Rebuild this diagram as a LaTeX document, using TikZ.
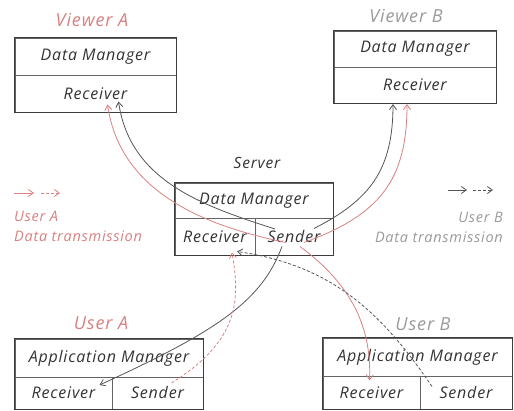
\documentclass[tikz,border=0pt]{standalone}
\usepackage{fontspec}
\setmainfont{Open Sans}[LetterSpace=5]
\usetikzlibrary{arrows.meta,calc}
\definecolor{redc}{HTML}{D98080}
\definecolor{linec}{HTML}{555555}
\definecolor{grayt}{HTML}{9A9A9A}
\definecolor{boxc}{HTML}{3C3C3C}
\definecolor{textc}{HTML}{333333}
\begin{document}
\begin{tikzpicture}[x=1pt,y=-1pt,
  cell/.style={draw=boxc!80, line width=0.8pt, inner sep=0pt, text=textc,
               font=\fontsize{16}{18}\selectfont\itshape},
  outer/.style={draw=boxc, line width=1.4pt},
  title/.style={inner sep=0pt, font=\fontsize{18}{20}\selectfont\itshape},
  legend/.style={inner sep=0pt, font=\fontsize{14.5}{20}\selectfont\itshape},
  conn/.style={line width=0.8pt, -{Straight Barb[length=5pt,width=7pt]}},
  grayconn/.style={conn, draw=linec},
  redconn/.style={conn, draw=redc},
  dashedline/.style={dash pattern=on 3pt off 2pt}
]
\useasboundingbox (0,0) rectangle (514,411);

% Viewer A
\node[cell, minimum width=161, minimum height=37] (vadm) at (95.5,56.5) {Data Manager};
\node[cell, minimum width=161, minimum height=37] (varx) at (95.5,93.5) {Receiver};
\draw[outer] (vadm.north west) rectangle (varx.south east);
\node[title, text=redc] (vat) at (92,20) {Viewer A};

% Viewer B
\node[cell, minimum width=162, minimum height=36] (vbdm) at (415,49) {Data Manager};
\node[cell, minimum width=162, minimum height=36] (vbrx) at (415,85) {Receiver};
\draw[outer] (vbdm.north west) rectangle (vbrx.south east);
\node[title, text=grayt] (vbt) at (406,16) {Viewer B};

% Server
\node[cell, minimum width=158, minimum height=35] (sdm) at (254,200.5) {Data Manager};
\node[cell, minimum width=80, minimum height=37] (srx) at (215,236.5) {Receiver};
\node[cell, minimum width=78, minimum height=37] (stx) at (294,236.5) {Sender};
\draw[outer] (sdm.north west) rectangle (stx.south east);
\node[title, text=textc, font=\fontsize{15.5}{17}\selectfont\itshape] (st) at (257,163) {Server};

% User A
\node[cell, minimum width=188, minimum height=38] (uadm) at (109,358) {Application Manager};
\node[cell, minimum width=97, minimum height=32] (uarx) at (63.5,393) {Receiver};
\node[cell, minimum width=91, minimum height=32] (uatx) at (157.5,393) {Sender};
\draw[outer] (uadm.north west) rectangle (uatx.south east);
\node[title, text=redc] (uat) at (101,323) {User A};

% User B
\node[cell, minimum width=189, minimum height=38] (ubdm) at (417.5,357) {Application Manager};
\node[cell, minimum width=97, minimum height=33] (ubrx) at (371.5,392.5) {Receiver};
\node[cell, minimum width=92, minimum height=33] (ubtx) at (466,392.5) {Sender};
\draw[outer] (ubdm.north west) rectangle (ubtx.south east);
\node[title, text=grayt] (ubt) at (423,324) {User B};

% Legends
\coordinate (la1) at (14,193); \coordinate (la2) at (34,193);
\coordinate (la3) at (41,193); \coordinate (la4) at (60,193);
\draw[redconn] (la1) -- (la2);
\draw[redconn, dashedline] (la3) -- (la4);
\node[legend, text=redc, anchor=west, align=left] (lga) at (14,226) {User A\\Data transmission};

\coordinate (lb1) at (448,190); \coordinate (lb2) at (467,190);
\coordinate (lb3) at (473,190); \coordinate (lb4) at (493,190);
\draw[grayconn] (lb1) -- (lb2);
\draw[grayconn, dashedline] (lb3) -- (lb4);
\node[legend, text=grayt, anchor=east, align=right] (lgb) at (503,227) {User B\\Data transmission};

% Connectors
\draw[grayconn] ($(stx.center)+(-19,-7.5)$) .. controls (200,205) and (130,180) .. ($(varx.center)+(23,8)$);
\draw[redconn] ($(stx.center)+(-8,6)$) .. controls (200,225) and (120,190) .. ($(varx.center)+(12,11)$);
\draw[grayconn] ($(stx.center)+(20,-8)$) .. controls (370,200) and (393,170) .. ($(vbrx.center)+(-22,19)$);
\draw[redconn] ($(stx.center)+(10,6)$) .. controls (380,215) and (407,180) .. ($(vbrx.center)+(-8,19)$);
\draw[grayconn] ($(stx.center)+(-12,10)$) .. controls (262,300) and (220,330) .. ($(uarx.center)+(36,-8)$);
\draw[redconn, dashedline] ($(uatx.center)+(14,-10)$) .. controls (240,340) and (240,300) .. ($(srx.center)+(17,16)$);
\draw[redconn] ($(stx.center)+(6,10)$) .. controls (345,280) and (372,320) .. ($(ubrx.center)+(-2,-12)$);
\draw[grayconn, dashedline] ($(ubtx.center)+(-34,-6)$) .. controls (380,310) and (330,265) .. ($(srx.center)+(22,15)$);
\end{tikzpicture}
\end{document}
